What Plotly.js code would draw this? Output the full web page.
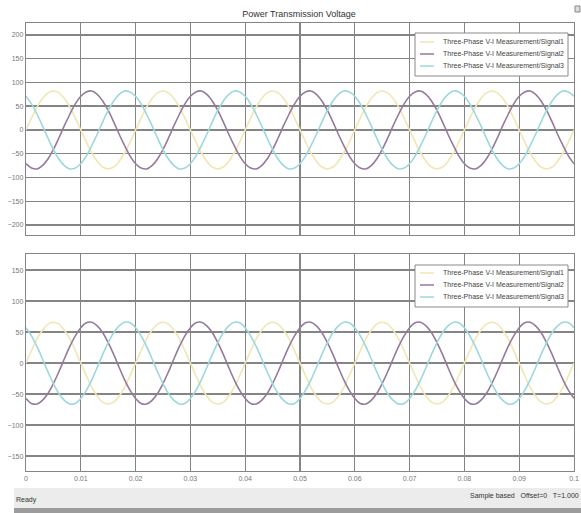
<!DOCTYPE html>
<html>
<head>
<meta charset="utf-8">
<script src="https://cdn.plot.ly/plotly-3.0.1.min.js"></script>
<style>html,body{margin:0;padding:0;background:#fff;}#chart{width:581px;height:513px;}</style>
</head>
<body>
<div id="chart"></div>
<script>
// time (s)
var time = [0,0.001,0.002,0.003,0.004,0.005,0.006,0.007,0.008,0.009,0.010,0.011,0.012,0.013,0.014,0.015,0.016,0.017,0.018,0.019,
0.020,0.021,0.022,0.023,0.024,0.025,0.026,0.027,0.028,0.029,0.030,0.031,0.032,0.033,0.034,0.035,0.036,0.037,0.038,0.039,
0.040,0.041,0.042,0.043,0.044,0.045,0.046,0.047,0.048,0.049,0.050,0.051,0.052,0.053,0.054,0.055,0.056,0.057,0.058,0.059,
0.060,0.061,0.062,0.063,0.064,0.065,0.066,0.067,0.068,0.069,0.070,0.071,0.072,0.073,0.074,0.075,0.076,0.077,0.078,0.079,
0.080,0.081,0.082,0.083,0.084,0.085,0.086,0.087,0.088,0.089,0.090,0.091,0.092,0.093,0.094,0.095,0.096,0.097,0.098,0.099,0.100];

// upper scope: signals 1..3
var topSignal1 = [0,25,48,66,78,82,78,66,48,25,0,-25,-48,-66,-78,-82,-78,-66,-48,-25,
0,25,48,66,78,82,78,66,48,25,0,-25,-48,-66,-78,-82,-78,-66,-48,-25,
0,25,48,66,78,82,78,66,48,25,0,-25,-48,-66,-78,-82,-78,-66,-48,-25,
0,25,48,66,78,82,78,66,48,25,0,-25,-48,-66,-78,-82,-78,-66,-48,-25,
0,25,48,66,78,82,78,66,48,25,0,-25,-48,-66,-78,-82,-78,-66,-48,-25,0];
var topSignal2 = [-71,-80,-82,-75,-61,-41,-17,9,33,55,71,80,82,75,61,41,17,-9,-33,-55,
-71,-80,-82,-75,-61,-41,-17,9,33,55,71,80,82,75,61,41,17,-9,-33,-55,
-71,-80,-82,-75,-61,-41,-17,9,33,55,71,80,82,75,61,41,17,-9,-33,-55,
-71,-80,-82,-75,-61,-41,-17,9,33,55,71,80,82,75,61,41,17,-9,-33,-55,
-71,-80,-82,-75,-61,-41,-17,9,33,55,71,80,82,75,61,41,17,-9,-33,-55,-71];
var topSignal3 = [71,55,33,9,-17,-41,-61,-75,-82,-80,-71,-55,-33,-9,17,41,61,75,82,80,
71,55,33,9,-17,-41,-61,-75,-82,-80,-71,-55,-33,-9,17,41,61,75,82,80,
71,55,33,9,-17,-41,-61,-75,-82,-80,-71,-55,-33,-9,17,41,61,75,82,80,
71,55,33,9,-17,-41,-61,-75,-82,-80,-71,-55,-33,-9,17,41,61,75,82,80,
71,55,33,9,-17,-41,-61,-75,-82,-80,-71,-55,-33,-9,17,41,61,75,82,80,71];

// lower scope: signals 1..3
var botSignal1 = [0,20,39,53,63,66,63,53,39,20,0,-20,-39,-53,-63,-66,-63,-53,-39,-20,
0,20,39,53,63,66,63,53,39,20,0,-20,-39,-53,-63,-66,-63,-53,-39,-20,
0,20,39,53,63,66,63,53,39,20,0,-20,-39,-53,-63,-66,-63,-53,-39,-20,
0,20,39,53,63,66,63,53,39,20,0,-20,-39,-53,-63,-66,-63,-53,-39,-20,
0,20,39,53,63,66,63,53,39,20,0,-20,-39,-53,-63,-66,-63,-53,-39,-20,0];
var botSignal2 = [-57,-65,-66,-60,-49,-33,-14,7,27,44,57,65,66,60,49,33,14,-7,-27,-44,
-57,-65,-66,-60,-49,-33,-14,7,27,44,57,65,66,60,49,33,14,-7,-27,-44,
-57,-65,-66,-60,-49,-33,-14,7,27,44,57,65,66,60,49,33,14,-7,-27,-44,
-57,-65,-66,-60,-49,-33,-14,7,27,44,57,65,66,60,49,33,14,-7,-27,-44,
-57,-65,-66,-60,-49,-33,-14,7,27,44,57,65,66,60,49,33,14,-7,-27,-44,-57];
var botSignal3 = [57,44,27,7,-14,-33,-49,-60,-66,-65,-57,-44,-27,-7,14,33,49,60,66,65,
57,44,27,7,-14,-33,-49,-60,-66,-65,-57,-44,-27,-7,14,33,49,60,66,65,
57,44,27,7,-14,-33,-49,-60,-66,-65,-57,-44,-27,-7,14,33,49,60,66,65,
57,44,27,7,-14,-33,-49,-60,-66,-65,-57,-44,-27,-7,14,33,49,60,66,65,
57,44,27,7,-14,-33,-49,-60,-66,-65,-57,-44,-27,-7,14,33,49,60,66,65,57];

var seriesNames = ["Three-Phase V-I Measurement/Signal1","Three-Phase V-I Measurement/Signal2","Three-Phase V-I Measurement/Signal3"];
var xTickVals = [0,0.01,0.02,0.03,0.04,0.05,0.06,0.07,0.08,0.09,0.1];
var xTickText = ["0","0.01","0.02","0.03","0.04","0.05","0.06","0.07","0.08","0.09","0.1"];
var yTopTicks = [-200,-150,-100,-50,0,50,100,150,200];
var yBotTicks = [-150,-100,-50,0,50,100,150];

var colors = ["#f1e6b4","#957a9c","#9dd8dc"];
var W = 581, H = 513;
var font = "Liberation Sans Narrow, Liberation Sans, Arial, sans-serif";

function tr(x, y, i, xa, ya) {
  return {x: x, y: y, type: "scatter", mode: "lines", name: seriesNames[i],
    xaxis: xa, yaxis: ya, showlegend: false,
    line: {color: colors[i], width: 1.6, shape: "spline"}};
}
var data = [
  tr(time, topSignal1, 0, "x", "y"),
  tr(time, topSignal2, 1, "x", "y"),
  tr(time, topSignal3, 2, "x", "y"),
  tr(time, botSignal1, 0, "x2", "y2"),
  tr(time, botSignal2, 1, "x2", "y2"),
  tr(time, botSignal3, 2, "x2", "y2")
];

var gridC = "#858585";
var tickFont = {family: font, size: 7, color: "#777"};
function xax(show, anchor) {
  return {domain: [26/W, 574/W], range: [0, 0.1], anchor: anchor,
    tickvals: xTickVals, ticktext: xTickText, showticklabels: show, ticks: "",
    showgrid: true, gridcolor: gridC, gridwidth: 1.2, zeroline: false,
    showline: true, mirror: true, linecolor: gridC, linewidth: 1.2, tickfont: tickFont, fixedrange: true};
}
function yax(dom, rng, tv, anchor) {
  return {domain: dom, range: rng, anchor: anchor, tickvals: tv, ticks: "",
    showgrid: true, gridcolor: gridC, gridwidth: 1.4, zeroline: false,
    showline: true, mirror: true, linecolor: gridC, linewidth: 1.2, tickfont: tickFont, fixedrange: true};
}

// hand-built scope legends (box, line sample, label)
var shapes = [
  {type: "rect", xref: "paper", yref: "paper", x0: 14/W, x1: 1, y0: 1 - 508/H, y1: 1 - 488/H,
    fillcolor: "#ececec", line: {width: 0}, layer: "below"},
  {type: "rect", xref: "paper", yref: "paper", x0: 14/W, x1: 1, y0: 0, y1: 1 - 508/H,
    fillcolor: "#9c9c9c", line: {width: 0}, layer: "below"},
  {type: "rect", xref: "paper", yref: "paper", x0: 575/W, x1: 580/W, y0: 1 - 12/H, y1: 1 - 6/H,
    fillcolor: "#dddddd", line: {color: "#888", width: 1}}
];
var annotations = [
  {text: "Ready", xref: "paper", yref: "paper", x: 14/W, y: 1 - 500/H, xanchor: "left", yanchor: "middle",
    showarrow: false, font: {family: font, size: 7, color: "#333"}},
  {text: "Sample based   Offset=0   T=1.000", xref: "paper", yref: "paper", x: 1, y: 1 - 496/H,
    xanchor: "right", yanchor: "middle", showarrow: false, font: {family: font, size: 7, color: "#333"}}
];
function addLegend(top, bottom, rows) {
  shapes.push({type: "rect", xref: "paper", yref: "paper", x0: 415/W, x1: 568/W, y0: 1 - bottom/H, y1: 1 - top/H,
    fillcolor: "#ffffff", line: {color: "#8a8a8a", width: 1}});
  for (var i = 0; i < 3; i++) {
    shapes.push({type: "line", xref: "paper", yref: "paper", x0: 420/W, x1: 434/W, y0: 1 - rows[i]/H, y1: 1 - rows[i]/H,
      line: {color: colors[i], width: 1.5}});
    annotations.push({text: seriesNames[i], xref: "paper", yref: "paper", x: 566/W, y: 1 - rows[i]/H,
      xanchor: "right", yanchor: "middle", showarrow: false, font: {family: font, size: 7, color: "#444"}});
  }
}
addLegend(33, 76, [42, 54, 66]);
addLegend(265, 307, [273, 285, 297]);

var layout = {
  width: W, height: H,
  margin: {l: 0, r: 0, t: 0, b: 0},
  paper_bgcolor: "#ffffff", plot_bgcolor: "#ffffff",
  showlegend: false,
  title: {text: "Power Transmission Voltage", x: 299/W, xanchor: "center", y: 1 - 14/H, yanchor: "middle",
    font: {family: font, size: 9, color: "#333"}},
  xaxis: xax(false, "y"),
  yaxis: yax([1 - 235/H, 1 - 23/H], [-221, 225], yTopTicks, "x"),
  xaxis2: xax(true, "y2"),
  yaxis2: yax([1 - 471/H, 1 - 254/H], [-174, 176], yBotTicks, "x2"),
  shapes: shapes,
  annotations: annotations
};

Plotly.newPlot("chart", data, layout, {displayModeBar: false, staticPlot: true});
</script>
</body>
</html>
